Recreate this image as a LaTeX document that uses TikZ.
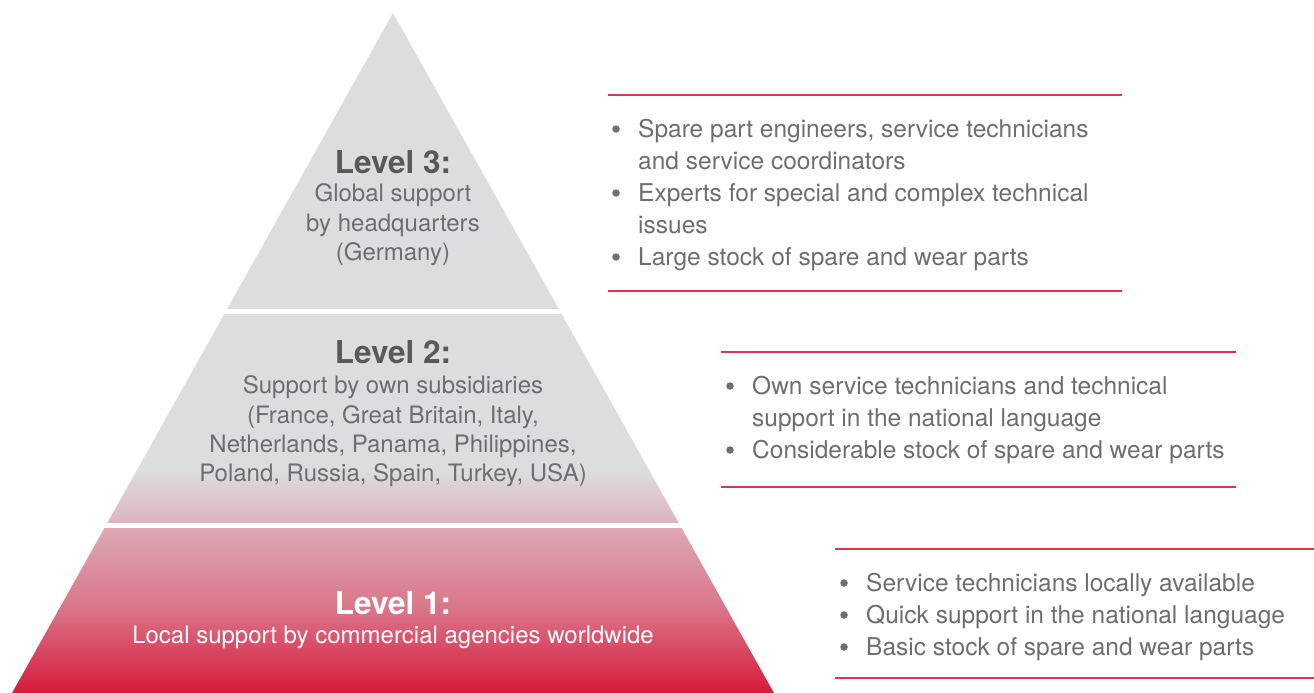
\documentclass[tikz,border=0pt]{standalone}
\usepackage{fontspec}
\setmainfont{TeX Gyre Heros}
\definecolor{pgray}{HTML}{DCDDDF}
\definecolor{ppink}{HTML}{DCB5BF}
\definecolor{ltop}{HTML}{DDA9B5}
\definecolor{lmid}{HTML}{DA7387}
\definecolor{lbot}{HTML}{D71A3B}
\definecolor{txtgray}{HTML}{6D6E71}
\definecolor{ttlgray}{HTML}{58595B}
\definecolor{rline}{HTML}{E0334C}
\tikzset{
  ttl/.style={inner sep=0pt, anchor=base, text=ttlgray, font=\fontsize{31.5}{31.5}\selectfont\bfseries},
  ptxt/.style={inner sep=0pt, anchor=base, text=txtgray, font=\fontsize{24}{30}\selectfont},
  btxt/.style={inner sep=0pt, anchor=base west, text=txtgray, font=\fontsize{24.5}{32}\selectfont},
  bdot/.style={circle, inner sep=0pt, minimum size=7.5pt, fill=txtgray},
  sep/.style={draw=rline, line width=1.5pt}
}
\begin{document}
\begin{tikzpicture}[x=1pt,y=1pt]
\useasboundingbox (0,0) rectangle (1314,-693);
% pyramid
\begin{scope}
\clip (393,-13) -- (12,-693) -- (774,-693) -- cycle;
\fill[pgray] (0,-13) rectangle (800,-309);
\fill[pgray] (0,-314) rectangle (800,-471);
\shade[top color=pgray, bottom color=ppink] (0,-470) rectangle (800,-522);
\shade[top color=ltop, bottom color=lmid] (0,-528) rectangle (800,-611);
\shade[top color=lmid, bottom color=lbot] (0,-610) rectangle (800,-693);
\end{scope}
% level 3 text
\node[ttl] (t3) at (393,-173) {Level 3:};
\node[ptxt] (t3a) at (393,-201) {Global support};
\node[ptxt] (t3b) at (393,-231) {by headquarters};
\node[ptxt] (t3c) at (393,-260) {(Germany)};
% level 2 text
\node[ttl] (t2) at (393,-363) {Level 2:};
\node[ptxt] (t2a) at (393,-393) {Support by own subsidiaries};
\node[ptxt] (t2b) at (393,-423) {(France, Great Britain, Italy,};
\node[ptxt] (t2c) at (393,-452) {Netherlands, Panama, Philippines,};
\node[ptxt] (t2d) at (393,-481) {Poland, Russia, Spain, Turkey, USA)};
% level 1 text
\node[ttl, text=white] (t1) at (393,-614) {Level 1:};
\node[ptxt, text=white] (t1a) at (393,-643) {Local support by commercial agencies worldwide};
% level 3 bullets
\coordinate (r3a) at (608,-95); \coordinate (r3b) at (1122,-95);
\coordinate (r3c) at (608,-291); \coordinate (r3d) at (1122,-291);
\draw[sep] (r3a) -- (r3b);
\draw[sep] (r3c) -- (r3d);
\node[bdot] (d3a) at (616,-129) {};
\node[btxt] (b3a) at (638,-137) {Spare part engineers, service technicians};
\node[btxt] (b3b) at (638,-169) {and service coordinators};
\node[bdot] (d3b) at (616,-193) {};
\node[btxt] (b3c) at (638,-201) {Experts for special and complex technical};
\node[btxt] (b3d) at (638,-233) {issues};
\node[bdot] (d3c) at (616,-257) {};
\node[btxt] (b3e) at (638,-265) {Large stock of spare and wear parts};
% level 2 bullets
\coordinate (r2a) at (721,-352); \coordinate (r2b) at (1236,-352);
\coordinate (r2c) at (721,-487); \coordinate (r2d) at (1236,-487);
\draw[sep] (r2a) -- (r2b);
\draw[sep] (r2c) -- (r2d);
\node[bdot] (d2a) at (730,-386) {};
\node[btxt] (b2a) at (752,-394) {Own service technicians and technical};
\node[btxt] (b2b) at (752,-426) {support in the national language};
\node[bdot] (d2b) at (730,-450) {};
\node[btxt] (b2c) at (752,-458) {Considerable stock of spare and wear parts};
% level 1 bullets
\coordinate (r1a) at (835,-549); \coordinate (r1b) at (1314,-549);
\coordinate (r1c) at (835,-678); \coordinate (r1d) at (1314,-678);
\draw[sep] (r1a) -- (r1b);
\draw[sep] (r1c) -- (r1d);
\node[bdot] (d1a) at (844,-583) {};
\node[btxt] (b1a) at (866,-591) {Service technicians locally available};
\node[bdot] (d1b) at (844,-615) {};
\node[btxt] (b1b) at (866,-623) {Quick support in the national language};
\node[bdot] (d1c) at (844,-647) {};
\node[btxt] (b1c) at (866,-655) {Basic stock of spare and wear parts};
\end{tikzpicture}
\end{document}
